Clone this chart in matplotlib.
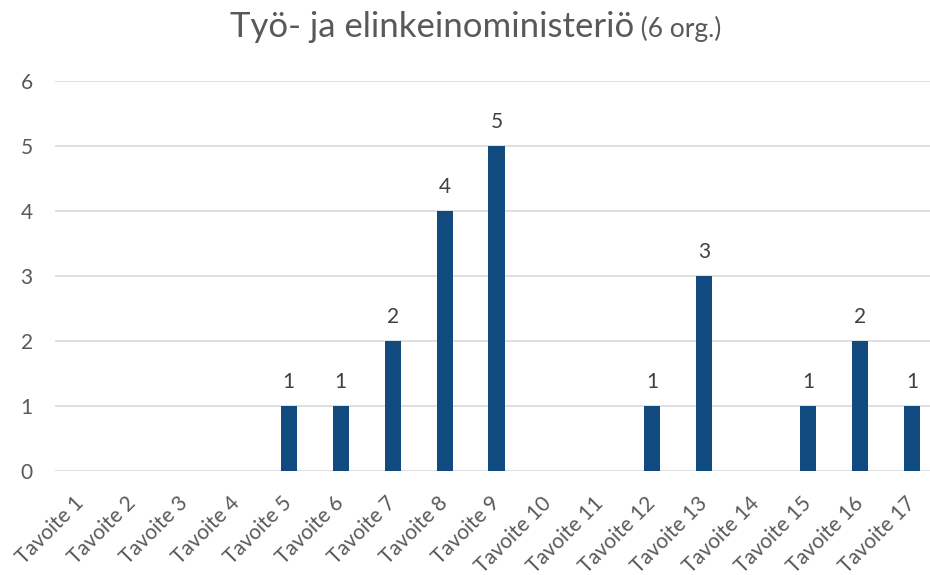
import matplotlib.pyplot as plt

# Data
categories = [f"Tavoite {i}" for i in range(1, 18)]
values = [0, 0, 0, 0, 1, 1, 2, 4, 5, 0, 0, 1, 3, 0, 1, 2, 1]
title_main = "Työ- ja elinkeinoministeriö"
title_note = " (6 org.)"

plt.rcParams['font.family'] = ['Lato', 'DejaVu Sans']
text_col = '#595959'
bar_col = '#114A7F'

fig = plt.figure(figsize=(9.3, 5.75), dpi=100)
ax = fig.add_axes([55 / 930, 104 / 575, 883 / 930, 390 / 575])

x = list(range(len(categories)))
ax.bar(x, values, width=0.31, color=bar_col, zorder=3)

# value labels for non-zero bars
for xi, v in zip(x, values):
    if v > 0:
        ax.annotate(str(v), (xi, v), xytext=(0, 10), textcoords='offset points',
                    ha='center', va='bottom', fontsize=15, color='#404040')

ax.set_xlim(-0.5, len(categories) - 0.5)
ax.set_ylim(0, 6)
ax.set_yticks(range(0, 7))
ax.yaxis.grid(True, color='#D9D9D9', linewidth=1.2, zorder=0)
ax.set_axisbelow(True)
for s in ax.spines.values():
    s.set_visible(False)
ax.tick_params(axis='both', length=0, colors=text_col, labelsize=15)
ax.tick_params(axis='y', pad=16)
ax.set_xticks(x)
ax.set_xticklabels(categories, rotation=45, ha='right', va='center',
                   rotation_mode='anchor')
ax.tick_params(axis='x', pad=21)

# two-size title
fig.canvas.draw()
r = fig.canvas.get_renderer()
t1 = fig.text(0, 0, title_main, fontsize=25, color=text_col, va='baseline')
t2 = fig.text(0, 0, title_note, fontsize=19, color=text_col, va='baseline')
w1 = t1.get_window_extent(r).width
w2 = t2.get_window_extent(r).width
start = 476 - (w1 + w2) / 2
base = 575 - 37
t1.set_position((start / 930, base / 575))
t2.set_position(((start + w1) / 930, base / 575))

fig.savefig('out.png', dpi=100)
